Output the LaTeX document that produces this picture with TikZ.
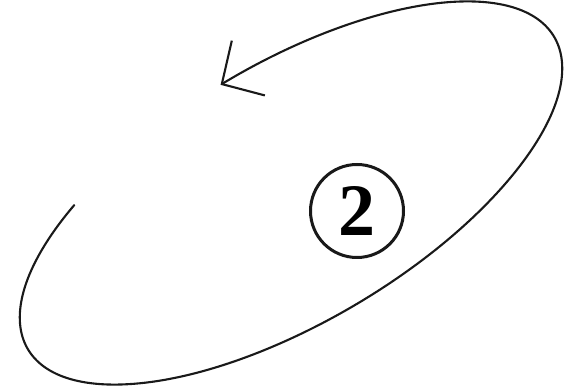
\documentclass[tikz,border=0pt]{standalone}
\usepackage{fontspec}
\setmainfont{Liberation Serif}
\usetikzlibrary{arrows.meta}
\tikzset{
  orbit/.style={line width=2.1pt, color=black!90, line cap=round,
    -{Straight Barb[length=31pt,width=64pt,line width=2.1pt]}},
  numcircle/.style={circle, draw=black!90, line width=3pt, minimum size=93pt, inner sep=0pt,
    font=\fontsize{74}{74}\selectfont\bfseries}
}
\begin{document}
\begin{tikzpicture}[x=1pt,y=1pt]
\useasboundingbox (0,0) rectangle (579,390);
\begin{scope}[shift={(291,197)}, rotate=30.7]
  \coordinate (start) at (129:306 and 129);
  \draw[orbit] (start) arc[start angle=129, end angle=451, x radius=306, y radius=129];
\end{scope}
\node[numcircle] (two) at (357,179) {2};
\end{tikzpicture}
\end{document}
